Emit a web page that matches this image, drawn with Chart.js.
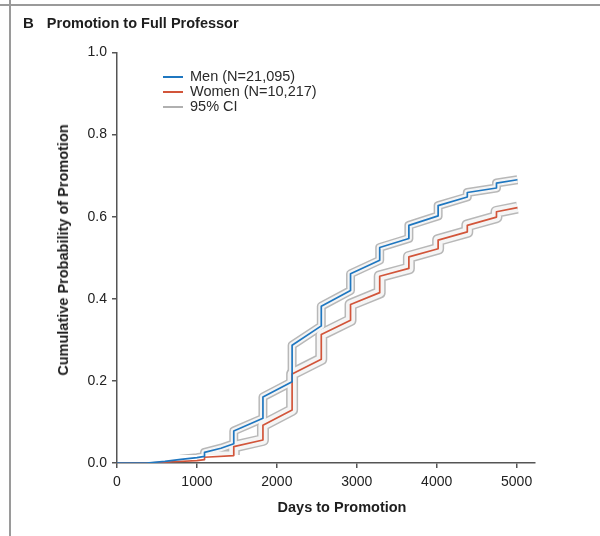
<!DOCTYPE html>
<html><head><meta charset="utf-8">
<script src="https://cdn.jsdelivr.net/npm/chart.js@4.4.1/dist/chart.umd.min.js"></script>
<style>
html,body{margin:0;padding:0;background:#fff}
#wrap{position:relative;width:600px;height:536px;overflow:hidden;font-family:"Liberation Sans",Arial,sans-serif}
#frameTop{position:absolute;left:0;top:4px;width:600px;height:2px;background:#9a9a9a}
#frameLeft{position:absolute;left:9px;top:0;width:2px;height:536px;background:#9a9a9a}
#title{position:absolute;left:23px;top:14px;font-weight:bold;font-size:14.5px;color:#1e1e1e;white-space:nowrap}
#title b{margin-right:13px;font-size:15px}
#legend{position:absolute;left:163px;top:69px;font-size:14.5px;color:#2a2a2a}
.row{height:15px;line-height:15px;display:flex;align-items:center;white-space:nowrap}
.sw{display:inline-block;width:20px;height:2px;margin-right:7px}
.axt{position:absolute;font-weight:bold;font-size:14.5px;color:#1e1e1e;white-space:nowrap}
#xt{left:342px;top:499px;transform:translateX(-50%)}
#yt{left:63px;top:250px;transform:translate(-50%,-50%) rotate(-90deg)}
canvas{position:absolute;left:0;top:0}
</style></head>
<body>
<div id="wrap">
  <canvas id="c" width="600" height="536"></canvas>
  <div id="frameTop"></div><div id="frameLeft"></div>
  <div id="title"><b>B</b>Promotion to Full Professor</div>
  <div id="legend">
    <div class="row"><span class="sw" style="background:#1f77c0"></span>Men (N=21,095)</div>
    <div class="row"><span class="sw" style="background:#d2553a"></span>Women (N=10,217)</div>
    <div class="row"><span class="sw" style="background:#b0b0b0"></span>95% CI</div>
  </div>
  <div class="axt" id="xt">Days to Promotion</div>
  <div class="axt" id="yt">Cumulative Probability of Promotion</div>
</div>
<script>
// tick positions
const xTicks=[0,1000,2000,3000,4000,5000];
const yTicks=[0,0.2,0.4,0.6,0.8,1.0];

// Kaplan-Meier curves (days, cumulative probability)
const menDays =[0,370,600,800,1000,1095,1095,1300,1461,1461,1826,1826,2191,2191,2556,2556,2922,2922,3287,3287,3652,3652,4018,4018,4383,4383,4748,4748,5010];
const menProb =[0,0,0.004,0.009,0.013,0.016,0.026,0.036,0.047,0.078,0.109,0.161,0.198,0.287,0.334,0.382,0.420,0.461,0.494,0.525,0.547,0.579,0.602,0.627,0.648,0.659,0.670,0.682,0.690];
const womenDays=[0,370,700,1000,1095,1095,1461,1461,1826,1826,2191,2191,2556,2556,2922,2922,3287,3287,3652,3652,4018,4018,4383,4383,4748,4748,5010];
const womenProb=[0,0,0.003,0.006,0.008,0.014,0.018,0.040,0.056,0.092,0.129,0.217,0.253,0.313,0.348,0.386,0.415,0.455,0.474,0.502,0.522,0.543,0.563,0.579,0.599,0.612,0.622];

const F='"Liberation Sans",Arial,sans-serif';
const pts=(d,p)=>d.map((x,i)=>({x:x,y:p[i]}));
const base={pointRadius:0,tension:0,fill:false,borderJoinStyle:'round',borderCapStyle:'butt'};
// halo datasets stop a few px above the x axis
const haloClip={left:0,top:0,right:0,bottom:-8};

// CI shown as a gray halo round each curve (outer gray, inner light)
new Chart(document.getElementById('c'),{
  type:'line',
  data:{datasets:[
    {...base,label:'Men (N=21,095)',data:pts(menDays,menProb),borderColor:'#1f77c0',borderWidth:1.7,order:0},
    {...base,label:'Women (N=10,217)',data:pts(womenDays,womenProb),borderColor:'#d2553a',borderWidth:1.7,order:1},
    {...base,label:'ci-m-in',data:pts(menDays,menProb),borderColor:'#f5f5f5',borderWidth:6,order:2,clip:haloClip},
    {...base,label:'ci-w-in',data:pts(womenDays,womenProb),borderColor:'#f5f5f5',borderWidth:9,order:3,clip:haloClip},
    {...base,label:'ci-m-out',data:pts(menDays,menProb),borderColor:'#b8b8b8',borderWidth:9,order:4,clip:haloClip},
    {...base,label:'ci-w-out',data:pts(womenDays,womenProb),borderColor:'#b8b8b8',borderWidth:12,order:5,clip:haloClip}
  ]},
  options:{responsive:false,animation:false,devicePixelRatio:1,
    layout:{padding:{top:52.5,right:65,left:0,bottom:0}},
    plugins:{legend:{display:false},tooltip:{enabled:false}},
    scales:{
      x:{type:'linear',min:0,max:5230,
        afterBuildTicks:s=>{s.ticks=xTicks.map(v=>({value:v}))},
        afterFit:s=>{s.height=73},
        border:{color:'#555',width:1.5},
        grid:{drawOnChartArea:false,drawTicks:true,tickLength:5,color:'#555',lineWidth:1.5},
        ticks:{color:'#222',font:{size:14,family:F},padding:6,maxRotation:0,callback:v=>String(v)}
      },
      y:{min:0,max:1,
        afterBuildTicks:s=>{s.ticks=yTicks.map(v=>({value:v}))},
        afterFit:s=>{s.width=117},
        border:{color:'#555',width:1.5},
        grid:{drawOnChartArea:false,drawTicks:true,tickLength:5,color:'#555',lineWidth:1.5},
        ticks:{color:'#222',font:{size:14,family:F},padding:5,callback:v=>v.toFixed(1)}
      }
    }
  }
});
</script>
</body></html>
